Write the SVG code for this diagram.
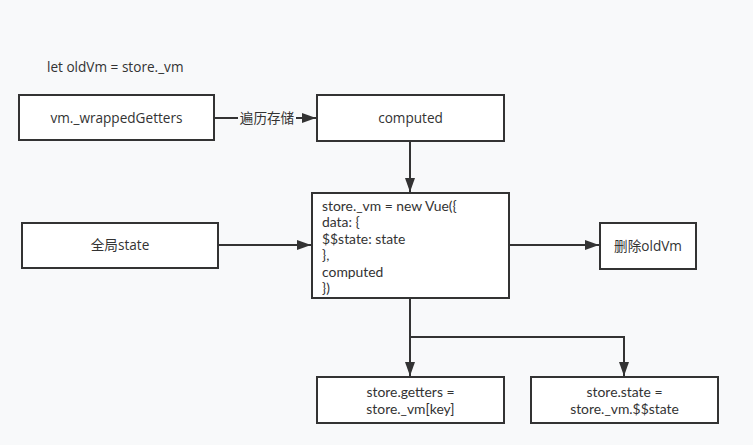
<svg xmlns="http://www.w3.org/2000/svg" width="753" height="445" viewBox="0 0 753 445">
<style>
  .box{fill:#fff;stroke:#333;stroke-width:2}
  .t{font-family:"Open Sans","Noto Sans","Noto Sans CJK SC",sans-serif;font-size:13.6px;fill:#333}
  .code{font-family:Lato,"Open Sans","Noto Sans CJK SC",sans-serif;font-size:13.9px;fill:#333}
  .c{text-anchor:middle}
  .ln{fill:none;stroke:#333;stroke-width:2}
</style>
<defs>
  <marker id="ah" viewBox="0 0 14 10" refX="14" refY="5" markerWidth="14" markerHeight="10" markerUnits="userSpaceOnUse" orient="auto">
    <path d="M0,0 L14,5 L0,10 Z" fill="#333"/>
  </marker>
</defs>
<rect width="753" height="445" fill="#f8f9fa"/>
<text class="t" x="47" y="72">let oldVm = store._vm</text>
<g id="connectors">
  <path class="ln" d="M214,118 H316" marker-end="url(#ah)"/>
  <rect x="238" y="109" width="58" height="18" fill="#f8f9fa"/>
  <text class="t c" x="267" y="123">遍历存储</text>
  <path class="ln" d="M410,141 V192" marker-end="url(#ah)"/>
  <path class="ln" d="M218,245 H311" marker-end="url(#ah)"/>
  <path class="ln" d="M509,245 H599" marker-end="url(#ah)"/>
  <path class="ln" d="M410,298 V376" marker-end="url(#ah)"/>
  <path class="ln" d="M410,337 H624 V376" marker-end="url(#ah)"/>
</g>
<g id="wrappedGetters">
  <rect class="box" x="19" y="95" width="195" height="45"/>
  <text class="t c" x="116.5" y="122.5">vm._wrappedGetters</text>
</g>
<g id="computed">
  <rect class="box" x="317" y="95" width="187" height="46"/>
  <text class="t c" x="410.5" y="122.5">computed</text>
</g>
<g id="newVue">
  <rect class="box" x="312" y="193" width="197" height="105"/>
  <text class="code"><tspan x="322" y="210.5">store._vm = new Vue({</tspan><tspan x="322" y="227">data: {</tspan><tspan x="322" y="243.5">$$state: state</tspan><tspan x="322" y="260">},</tspan><tspan x="322" y="276.5">computed</tspan><tspan x="322" y="293">})</tspan></text>
</g>
<g id="globalState">
  <rect class="box" x="22" y="223" width="196" height="45"/>
  <text class="t c" x="120" y="250">全局state</text>
</g>
<g id="deleteOldVm">
  <rect class="box" x="600" y="223" width="96" height="46"/>
  <text class="t c" x="648" y="250.5">删除oldVm</text>
</g>
<g id="getters">
  <rect class="box" x="317" y="377" width="187" height="46"/>
  <text class="code c"><tspan x="410.5" y="396.5">store.getters =</tspan><tspan x="410.5" y="413.5">store._vm[key]</tspan></text>
</g>
<g id="state">
  <rect class="box" x="531" y="377" width="187" height="46"/>
  <text class="code c"><tspan x="624.5" y="396.5">store.state =</tspan><tspan x="624.5" y="413.5">store._vm.$$state</tspan></text>
</g>
</svg>
